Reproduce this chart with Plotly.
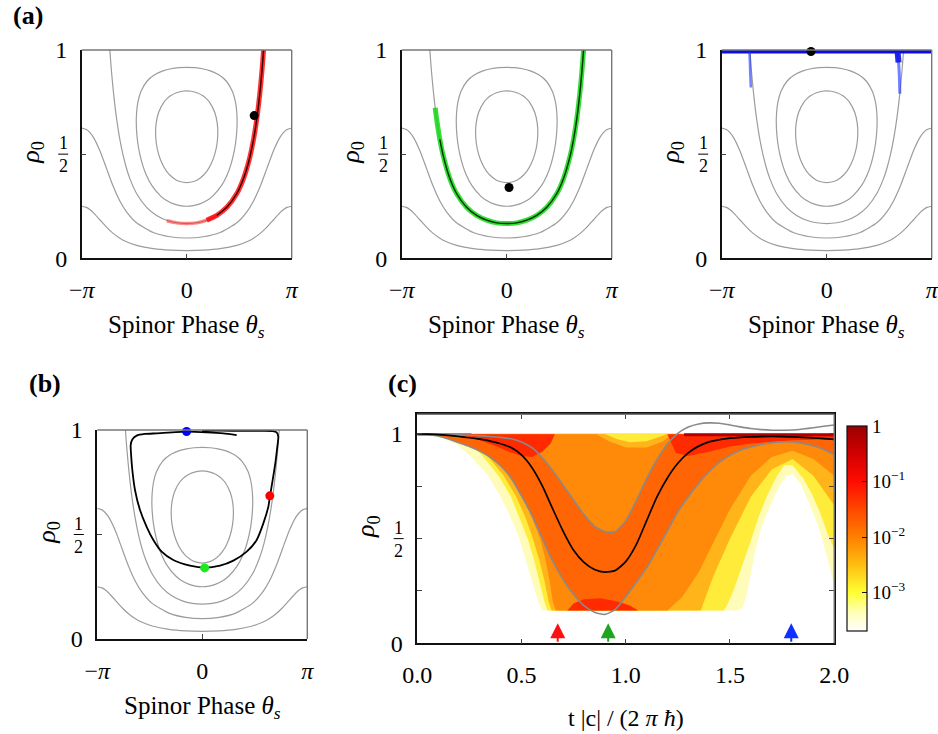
import numpy as np
import plotly.graph_objects as go

W, H = 938, 734
SERIF = "Liberation Serif, Times New Roman, DejaVu Serif, serif"
PI = np.pi

# ---------------------------------------------------------------------------
# Mean-field energy contours in the (theta_s, rho0) plane.
# Right halves (theta >= 0) are listed; left halves are mirror images.
# ---------------------------------------------------------------------------
inner_theta = [0.0, 0.231, 0.353, 0.505, 0.611, 0.722, 0.841, 0.907, 0.931, 0.912,
               0.841, 0.680, 0.564, 0.486, 0.307, 0.142, 0.0]
inner_rho = [0.363, 0.370, 0.380, 0.400, 0.420, 0.450, 0.500, 0.550, 0.600, 0.650,
             0.700, 0.750, 0.770, 0.780, 0.795, 0.802, 0.804]

outer_theta = [0.0, 0.200, 0.372, 0.626, 0.786, 1.045, 1.209, 1.322, 1.403, 1.460,
               1.494, 1.509, 1.499, 1.460, 1.372, 1.189, 0.973, 0.709, 0.467, 0.239, 0.0]
outer_rho = [0.250, 0.253, 0.260, 0.280, 0.300, 0.350, 0.400, 0.450, 0.500, 0.550,
             0.600, 0.650, 0.700, 0.750, 0.800, 0.850, 0.880, 0.900, 0.910, 0.915, 0.917]

sep_theta = [0.0, 0.3, 0.6, 0.9, 1.2, 1.5, 1.7, 1.8, 1.9, 2.0, 2.1, 2.15, 2.2, 2.25,
             2.275, 2.3005]
sep_rho = [0.1667, 0.1705, 0.1826, 0.2056, 0.2447, 0.3113, 0.3826, 0.4313, 0.4926,
           0.5709, 0.6731, 0.7365, 0.8101, 0.8965, 0.9456, 1.0]

open1_theta = [0.0, 0.5, 1.0, 1.5, 1.8, 2.0, 2.2, 2.4, 2.6, 2.8, 2.9, 3.0, PI]
open1_rho = [0.0974, 0.1033, 0.1238, 0.1705, 0.2231, 0.2754, 0.3458, 0.4316, 0.5178,
             0.5830, 0.6042, 0.6179, 0.625]

open2_theta = [0.0, 0.5, 1.0, 1.5, 1.8, 2.0, 2.2, 2.4, 2.6, 2.8, 2.9, 3.0, PI]
open2_rho = [0.0369, 0.0390, 0.0462, 0.0623, 0.0798, 0.0968, 0.1198, 0.1497, 0.1850,
             0.2202, 0.2344, 0.2447, 0.25]

# Distributions at the three snapshot times (panel a)
red_theta = [-0.60, -0.30, 0.00, 0.30, 0.60, 0.90, 1.20, 1.50, 1.70, 1.85, 2.00, 2.10,
             2.20, 2.26, 2.30]
red_rho = [0.180, 0.170, 0.167, 0.170, 0.183, 0.206, 0.245, 0.311, 0.383, 0.460, 0.571,
           0.673, 0.810, 0.916, 1.0]

green_theta = [-2.14, -2.10, -2.00, -1.90, -1.70, -1.50, -1.20, -0.90, -0.60, -0.30, 0.00,
               0.30, 0.60, 0.90, 1.20, 1.50, 1.70, 1.90, 2.00, 2.10, 2.20, 2.25, 2.30]
green_rho = [0.723, 0.673, 0.571, 0.493, 0.383, 0.311, 0.245, 0.206, 0.183, 0.170, 0.167,
             0.170, 0.183, 0.206, 0.245, 0.311, 0.383, 0.493, 0.571, 0.673, 0.810, 0.897, 1.0]

blue_top_theta = [-PI, PI]
blue_top_rho = [0.994, 0.994]
blue_drip1_theta = [-2.31, -2.30, -2.29, -2.28, -2.27]
blue_drip1_rho = [0.99, 0.95, 0.90, 0.86, 0.82]
blue_drip2_theta = [2.12, 2.15, 2.17, 2.18, 2.19]
blue_drip2_rho = [0.99, 0.94, 0.89, 0.84, 0.79]

# Snapshot means (theta_s, rho0) and times
snap_t = [0.674, 0.916, 1.794]
snap_theta = [2.02, 0.07, -0.47]
snap_rho = [0.685, 0.340, 0.993]
snap_colors = ['#ff0000', '#1ee81e', '#0000ff']
arrow_colors = ['#ff1010', '#1fa51f', '#1030ff']

# Mean trajectory in phase space (panel b)
traj_theta = [0.00, 0.60, 1.20, 1.80, 2.106, 2.225, 2.274, 2.245, 2.185, 2.106,
              2.026, 1.976, 1.826, 1.627, 1.328, 0.929, 0.530, 0.081, -0.368, -0.867,
              -1.216, -1.465, -1.665, -1.864, -2.014, -2.094, -2.133, -2.143, -2.094, -1.964,
              -1.715, -1.365, -0.468, 0.131, 0.629, 1.028]
traj_rho = [0.997, 0.997, 0.996, 0.996, 0.995, 0.989, 0.968, 0.920, 0.841, 0.761,
            0.684, 0.633, 0.553, 0.474, 0.418, 0.375, 0.351, 0.341, 0.351, 0.378,
            0.418, 0.474, 0.537, 0.617, 0.713, 0.809, 0.888, 0.928, 0.955, 0.973,
            0.981, 0.984, 0.992, 0.989, 0.984, 0.976]

# Time evolution (panel c)
t_grid = [0.00, 0.05, 0.10, 0.15, 0.20, 0.25, 0.30, 0.35, 0.40, 0.45, 0.50, 0.55, 0.60,
          0.65, 0.70, 0.75, 0.80, 0.85, 0.90, 0.95, 1.00, 1.05, 1.10, 1.15, 1.20, 1.25,
          1.30, 1.35, 1.40, 1.45, 1.50, 1.55, 1.60, 1.65, 1.70, 1.75, 1.80, 1.85, 1.90,
          1.95, 2.00]
rho_mean = [1.000, 0.999, 0.997, 0.993, 0.988, 0.982, 0.975, 0.966, 0.953, 0.935, 0.900,
            0.840, 0.752, 0.642, 0.535, 0.445, 0.387, 0.353, 0.340, 0.348, 0.390, 0.470,
            0.585, 0.700, 0.790, 0.860, 0.910, 0.942, 0.962, 0.973, 0.980, 0.984, 0.986,
            0.987, 0.988, 0.987, 0.986, 0.984, 0.981, 0.978, 0.974]
rho_upper = [1.000, 1.000, 0.999, 0.998, 0.996, 0.994, 0.991, 0.988, 0.984, 0.977, 0.962,
             0.935, 0.888, 0.825, 0.755, 0.685, 0.615, 0.560, 0.533, 0.534, 0.585, 0.680,
             0.785, 0.878, 0.952, 1.003, 1.033, 1.048, 1.053, 1.051, 1.043, 1.034, 1.026,
             1.021, 1.018, 1.018, 1.019, 1.024, 1.030, 1.037, 1.043]
rho_lower = [1.000, 0.998, 0.990, 0.976, 0.958, 0.940, 0.918, 0.888, 0.848, 0.790, 0.705,
             0.612, 0.502, 0.392, 0.303, 0.233, 0.180, 0.148, 0.138, 0.162, 0.222, 0.290,
             0.360, 0.447, 0.537, 0.628, 0.700, 0.765, 0.820, 0.866, 0.898, 0.922, 0.938,
             0.950, 0.958, 0.962, 0.962, 0.955, 0.944, 0.926, 0.902]

# Regions of the trajectory ensemble, from sparse to dense
cloud_F_t = [0.00, 2.00, 2.00, 1.98, 1.95, 1.92, 1.88, 1.84, 1.80, 1.77, 1.73, 1.69, 1.65,
             1.62, 1.60, 1.58, 1.56, 1.54, 0.60, 0.58, 0.55, 0.52, 0.49, 0.45, 0.40, 0.34,
             0.25, 0.19, 0.12, 0.05, 0.00]
cloud_F_r = [1.004, 1.004, 0.27, 0.36, 0.47, 0.57, 0.67, 0.76, 0.81, 0.80, 0.74, 0.65, 0.55,
             0.44, 0.33, 0.23, 0.17, 0.157, 0.157, 0.20, 0.30, 0.40, 0.50, 0.60, 0.70, 0.80,
             0.90, 0.95, 0.98, 0.996, 1.0]
cloud_Y_t = [0.00, 2.00, 2.00, 1.97, 1.93, 1.89, 1.85, 1.80, 1.76, 1.72, 1.68, 1.64, 1.60,
             1.56, 1.52, 1.49, 1.47, 0.625, 0.61, 0.585, 0.56, 0.53, 0.49, 0.45, 0.39, 0.31,
             0.25, 0.18, 0.08, 0.00]
cloud_Y_r = [1.003, 1.003, 0.45, 0.52, 0.63, 0.72, 0.79, 0.85, 0.85, 0.79, 0.71, 0.61, 0.49,
             0.37, 0.26, 0.19, 0.157, 0.157, 0.20, 0.30, 0.40, 0.50, 0.60, 0.70, 0.80, 0.90,
             0.95, 0.98, 0.996, 1.0]
cloud_YO_t = [0.10, 0.90, 0.96, 1.02, 1.10, 1.16, 1.20, 2.00, 2.00, 1.90, 1.80, 1.70, 1.60,
              1.50, 1.42, 1.36, 0.645, 0.63, 0.61, 0.585, 0.555, 0.52, 0.475, 0.415, 0.335,
              0.275, 0.21]
cloud_YO_r = [1.0, 1.0, 0.975, 0.96, 0.965, 0.985, 1.0, 1.0, 0.66, 0.80, 0.88, 0.83, 0.70,
              0.50, 0.32, 0.157, 0.157, 0.20, 0.30, 0.40, 0.50, 0.60, 0.70, 0.80, 0.90,
              0.95, 0.98]
cloud_O_t = [0.18, 0.86, 0.92, 1.00, 1.10, 1.18, 1.22, 2.00, 2.00, 1.90, 1.80, 1.70, 1.60,
             1.50, 1.42, 1.35, 1.27, 1.20, 0.665, 0.65, 0.635, 0.615, 0.59, 0.55, 0.505,
             0.445, 0.365, 0.30, 0.24]
cloud_O_r = [0.999, 0.999, 0.965, 0.935, 0.935, 0.965, 0.999, 0.999, 0.80, 0.88, 0.92, 0.89,
             0.80, 0.64, 0.48, 0.34, 0.22, 0.157, 0.157, 0.20, 0.30, 0.40, 0.50, 0.60, 0.70,
             0.80, 0.90, 0.95, 0.98]
dense1_t = [0.22, 0.66, 0.64, 0.60, 0.55, 0.50, 0.44, 0.37, 0.30, 0.25]
dense1_r = [0.999, 0.999, 0.955, 0.915, 0.89, 0.895, 0.915, 0.945, 0.97, 0.985]
dense2_t = [0.72, 1.06, 1.02, 0.96, 0.88, 0.80, 0.75]
dense2_r = [0.157, 0.157, 0.18, 0.20, 0.215, 0.21, 0.19]
dense3_t = [1.20, 2.00, 2.00, 1.80, 1.60, 1.50, 1.40, 1.30, 1.24]
dense3_r = [0.999, 0.999, 0.975, 0.97, 0.955, 0.94, 0.915, 0.895, 0.91]

# Colour scale of the probability density (log10)
cb_min, cb_max = -3.69, 0.0
cb_ticks = [-3, -2, -1, 0]
cb_labels = ['10<sup>−3</sup>', '10<sup>−2</sup>', '10<sup>−1</sup>', '1']
density_scale = [[0.0, '#ffffff'], [0.09, '#ffffb8'], [0.187, '#ffff33'], [0.33, '#ffbb10'],
                 [0.458, '#ff8000'], [0.60, '#ff4500'], [0.729, '#ff0c00'],
                 [0.87, '#d00000'], [1.0, '#9a0000']]


def px(x):
    return x / W


def py(y):
    return 1 - y / H


def mirror_closed(th, rh):
    full_t = list(th) + [-v for v in reversed(th)][1:]
    full_r = list(rh) + list(reversed(rh))[1:]
    return full_t, full_r


def mirror_open(th, rh):
    full_t = [-v for v in reversed(th)] + list(th)[1:]
    full_r = list(reversed(rh)) + list(rh)[1:]
    return full_t, full_r


contours = [mirror_closed(inner_theta, inner_rho), mirror_closed(outer_theta, outer_rho),
            mirror_open(sep_theta, sep_rho), mirror_open(open1_theta, open1_rho),
            mirror_open(open2_theta, open2_rho)]

fig = go.Figure()


def line(x, y, xa, ya, color, width, shape='spline', **kw):
    fig.add_trace(go.Scatter(x=x, y=y, xaxis=xa, yaxis=ya, mode='lines',
                             line=dict(color=color, width=width, shape=shape, smoothing=0.6),
                             hoverinfo='skip', showlegend=False, **kw))


def add_contours(xa, ya):
    for th, rh in contours:
        line(th, rh, xa, ya, '#9c9c9c', 1.2)


def dots(x, y, xa, ya, colors, size=9):
    fig.add_trace(go.Scatter(x=x, y=y, xaxis=xa, yaxis=ya, mode='markers',
                             marker=dict(color=colors, size=size, line=dict(width=0)),
                             cliponaxis=False, hoverinfo='skip', showlegend=False))


# ---- panel (a): three snapshots
add_contours('x', 'y')
line(red_theta[:6], red_rho[:6], 'x', 'y', 'rgba(255,40,40,0.55)', 3.5)
line(red_theta[4:], red_rho[4:], 'x', 'y', 'rgba(255,0,0,0.8)', 5)
line(red_theta[5:], red_rho[5:], 'x', 'y', '#3a0000', 1.4)
dots([snap_theta[0]], [snap_rho[0]], 'x', 'y', 'black')

add_contours('x2', 'y2')
line(green_theta, green_rho, 'x2', 'y2', 'rgba(20,215,20,0.85)', 5)
line(green_theta[2:], green_rho[2:], 'x2', 'y2', '#003300', 1.4)
dots([snap_theta[1]], [snap_rho[1]], 'x2', 'y2', 'black')

add_contours('x3', 'y3')
line(blue_top_theta, blue_top_rho, 'x3', 'y3', '#0a0aee', 4.5, shape='linear')
line(blue_drip1_theta, blue_drip1_rho, 'x3', 'y3', 'rgba(40,60,255,0.65)', 2.5)
line(blue_drip2_theta, blue_drip2_rho, 'x3', 'y3', 'rgba(40,60,255,0.65)', 3)
line(blue_drip2_theta[:2], blue_drip2_rho[:2], 'x3', 'y3', 'rgba(20,20,235,0.9)', 6)
dots([snap_theta[2]], [snap_rho[2]], 'x3', 'y3', 'black')

# ---- panel (b): mean trajectory in phase space
add_contours('x4', 'y4')
line(traj_theta, traj_rho, 'x4', 'y4', 'black', 1.8)
dots(snap_theta, snap_rho, 'x4', 'y4', snap_colors)

# ---- panel (c): ensemble of trajectories
layers = [(cloud_F_t, cloud_F_r, '#fffbb8'), (cloud_Y_t, cloud_Y_r, '#ffec3a'),
          (cloud_YO_t, cloud_YO_r, '#ffb41a'), (cloud_O_t, cloud_O_r, '#ff8a0a')]
for tt, rr, col in layers:
    fig.add_trace(go.Scatter(x=tt, y=rr, xaxis='x5', yaxis='y5', mode='lines', fill='toself',
                             fillcolor=col, line=dict(width=0, color=col),
                             hoverinfo='skip', showlegend=False))
band_t = t_grid + t_grid[::-1]
band_r = [min(v, 0.999) for v in rho_upper] + [max(v, 0.157) for v in rho_lower][::-1]
fig.add_trace(go.Scatter(x=band_t, y=band_r, xaxis='x5', yaxis='y5', mode='lines',
                         fill='toself', fillcolor='#ff6405', line=dict(width=0),
                         hoverinfo='skip', showlegend=False))
for tt, rr in [(dense1_t, dense1_r), (dense2_t, dense2_r), (dense3_t, dense3_r)]:
    fig.add_trace(go.Scatter(x=tt, y=rr, xaxis='x5', yaxis='y5', mode='lines', fill='toself',
                             fillcolor='#ff2a00', line=dict(width=0),
                             hoverinfo='skip', showlegend=False))
line([0.0, 0.26], [0.997, 0.997], 'x5', 'y5', '#ff3a3a', 2.5, shape='linear')
line([1.28, 2.0], [0.996, 0.996], 'x5', 'y5', '#b40000', 3, shape='linear')
line(t_grid, rho_upper, 'x5', 'y5', '#8a8a8a', 1.6)
line(t_grid, rho_lower, 'x5', 'y5', '#8a8a8a', 1.6)
line(t_grid, rho_mean, 'x5', 'y5', 'black', 1.7)

# colour bar carrier (single point outside the visible time range)
fig.add_trace(go.Scatter(
    x=[3.0], y=[0.5], xaxis='x5', yaxis='y5', mode='markers', hoverinfo='skip',
    showlegend=False,
    marker=dict(size=1, color=[-1.0], colorscale=density_scale, cmin=cb_min, cmax=cb_max,
                showscale=True,
                colorbar=dict(x=px(847.3), xanchor='left', y=py(528.5), yanchor='middle',
                              len=205 / H, lenmode='fraction', thickness=20,
                              thicknessmode='pixels', outlinewidth=1.2, outlinecolor='#111',
                              tickvals=cb_ticks, ticktext=cb_labels, ticks='inside',
                              ticklen=5, tickcolor='#111',
                              tickfont=dict(family=SERIF, size=19, color='black'),
                              xpad=0, ypad=0))))

# ---- axes
boxes = {
    1: ((81.7, 291.7), (50.0, 258.3)),
    2: ((401.7, 611.7), (50.0, 258.3)),
    3: ((721.7, 931.7), (50.0, 258.3)),
    4: ((97.3, 307.3), (430.0, 639.0)),
    5: ((417.2, 834.2), (414.3, 643.3)),
}
common = dict(showline=True, linecolor='#111111', linewidth=1.5, ticks='inside', ticklen=5,
              tickwidth=1.2, tickcolor='#444444', showgrid=False, zeroline=False,
              fixedrange=True, ticklabeloverflow='allow',
              tickfont=dict(family=SERIF, size=24, color='black'))
layout_axes = {}
for i, ((x0, x1), (y0, y1)) in boxes.items():
    sx = '' if i == 1 else str(i)
    if i < 5:
        xa = dict(range=[-PI, PI], tickvals=[-PI, 0, PI],
                  ticktext=['−<i>π</i>', '0', '<i>π</i>'])
        ya = dict(range=[0, 1], tickvals=[0, 0.5, 1], ticktext=['0', '', '1'])
    else:
        xa = dict(range=[0, 2], tickvals=[0, 0.5, 1.0, 1.5, 2.0],
                  ticktext=['0.0', '0.5', '1.0', '1.5', '2.0'], mirror='ticks')
        ya = dict(range=[0, 1.094], tickvals=[0, 0.25, 0.5, 0.75, 1.0],
                  ticktext=['0', '', '', '', '1'], mirror='ticks')
    layout_axes['xaxis' + sx] = dict(common, domain=[px(x0), px(x1)], anchor='y' + sx,
                                     ticklabelstandoff=9, **xa)
    layout_axes['yaxis' + sx] = dict(common, domain=[py(y1), py(y0)], anchor='x' + sx,
                                     ticklabelstandoff=8, **ya)

shapes = []
annotations = []


def label(text, x, y, size, **kw):
    annotations.append(dict(text=text, xref='paper', yref='paper', x=px(x), y=py(y),
                            xanchor='center', yanchor='middle', showarrow=False,
                            font=dict(family=SERIF, size=size, color='black'), **kw))


for i, ((x0, x1), (y0, y1)) in boxes.items():
    sx = '' if i == 1 else str(i)
    # grey top and right frame
    shapes.append(dict(type='line', xref='x%s domain' % sx, yref='y%s domain' % sx,
                       x0=0, x1=1, y0=1, y1=1, line=dict(color='#777777', width=1.4)))
    shapes.append(dict(type='line', xref='x%s domain' % sx, yref='y%s domain' % sx,
                       x0=1, x1=1, y0=0, y1=1, line=dict(color='#777777', width=1.4)))
    # stacked fraction 1/2 on the rho0 axis
    shapes.append(dict(type='line', xref='paper', yref='y' + sx, x0=px(x0 - 23.5),
                       x1=px(x0 - 13.5), y0=0.5, y1=0.5, line=dict(color='black', width=1)))
    for txt, shift in [('1', 11), ('2', -12)]:
        annotations.append(dict(text=txt, xref='paper', yref='y' + sx, x=px(x0 - 18.5),
                                y=0.5, yshift=shift, xanchor='center', yanchor='middle',
                                showarrow=False,
                                font=dict(family=SERIF, size=18, color='black')))
    # rho0 label
    yc = (y0 + y1) / 2
    label('<i>ρ</i><sub>0</sub>', x0 - 50, yc - 2, 26, textangle=-90)
    if i < 5:
        label('Spinor Phase <i>θ</i><sub><i>s</i></sub>', (x0 + x1) / 2, y1 + 68, 25)

label('t |c| / (2 <i>π</i> <i>ħ</i>)', 625.7, 718, 24)
for lab, (lx, ly) in {'(a)': (28, 15), '(b)': (45, 384), '(c)': (402, 384)}.items():
    label('<b>%s</b>' % lab, lx, ly, 26)

# time markers for the three snapshots
for t, col in zip(snap_t, arrow_colors):
    annotations.append(dict(text='', x=t, y=0.096, ax=t, ay=0.0, xref='x5', yref='y5',
                            axref='x5', ayref='y5', showarrow=True, arrowhead=2,
                            arrowsize=1.5, arrowwidth=2.0, arrowcolor=col))

fig.update_layout(width=W, height=H,
                  margin=dict(l=0, r=0, t=0, b=0, pad=0, autoexpand=False),
                  paper_bgcolor='white', plot_bgcolor='white',
                  font=dict(family=SERIF, size=22, color='black'),
                  showlegend=False, shapes=shapes, annotations=annotations, **layout_axes)

fig.write_html("out.html", config={'displayModeBar': False})
